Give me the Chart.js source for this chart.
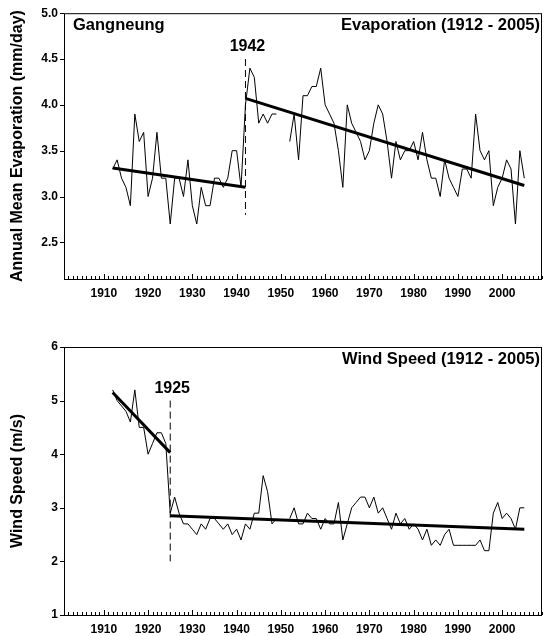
<!DOCTYPE html>
<html lang="en">

<head>
  <meta charset="UTF-8" />
  <title>Gangneung evaporation and wind speed</title>
  <script src="https://cdn.jsdelivr.net/npm/chart.js"></script>
  <style>
    body { margin: 0; padding: 0; background: #fff; }
    .panel { position: absolute; left: 0; }
  </style>
</head>

<body>
  <canvas id="evapChart" class="panel" style="top:0" width="547" height="318"></canvas>
  <canvas id="windChart" class="panel" style="top:318px" width="547" height="318"></canvas>

  <script>
    // years 1912 - 2005 (1950, 1951 missing)
    const years = [];
    for (let yr = 1912; yr <= 2005; yr++) years.push(yr);

    const evaporation = [
      3.3, 3.4, 3.2, 3.1, 2.9, 3.9, 3.6, 3.7, 3.0, 3.2, // 1912-1921
      3.7, 3.2, 3.2, 2.7, 3.2, 3.2, 3.0, 3.4, 2.9, 2.7, // 1922-1931
      3.1, 2.9, 2.9, 3.2, 3.2, 3.1, 3.2, 3.5, 3.5, 3.1, // 1932-1941
      4.0, 4.4, 4.3, 3.8, 3.9, 3.8, 3.9, 3.9, null, null, // 1942-1951
      3.6, 3.9, 3.4, 4.1, 4.1, 4.2, 4.2, 4.4, 4.0, 3.9, // 1952-1961
      3.8, 3.5, 3.1, 4.0, 3.8, 3.7, 3.6, 3.4, 3.5, 3.8, // 1962-1971
      4.0, 3.9, 3.6, 3.2, 3.6, 3.4, 3.5, 3.5, 3.6, 3.4, // 1972-1981
      3.7, 3.4, 3.2, 3.2, 3.0, 3.4, 3.2, 3.1, 3.0, 3.3, // 1982-1991
      3.3, 3.2, 3.9, 3.5, 3.4, 3.5, 2.9, 3.1, 3.2, 3.4, // 1992-2001
      3.3, 2.7, 3.5, 3.2                                // 2002-2005
    ];

    const windSpeed = [
      5.2, 5.0, 4.9, 4.8, 4.6, 5.2, 4.5, 4.5, 4.0, 4.2, // 1912-1921
      4.4, 4.4, 4.2, 2.9, 3.2, 2.9, 2.7, 2.7, 2.6, 2.5, // 1922-1931
      2.7, 2.6, 2.8, 2.8, 2.7, 2.6, 2.7, 2.5, 2.6, 2.4, // 1932-1941
      2.7, 2.6, 2.9, 2.9, 3.6, 3.3, 2.7, 2.8, null, null, // 1942-1951
      2.8, 3.0, 2.7, 2.7, 2.9, 2.8, 2.8, 2.6, 2.8, 2.7, // 1952-1961
      2.7, 3.1, 2.4, 2.7, 3.0, 3.1, 3.2, 3.2, 3.0, 3.2, // 1962-1971
      2.9, 3.0, 2.8, 2.6, 2.9, 2.7, 2.8, 2.6, 2.7, 2.6, // 1972-1981
      2.4, 2.6, 2.3, 2.4, 2.3, 2.5, 2.6, 2.3, 2.3, 2.3, // 1982-1991
      2.3, 2.3, 2.3, 2.4, 2.2, 2.2, 2.9, 3.1, 2.8, 2.9, // 1992-2001
      2.8, 2.6, 3.0, 3.0                                // 2002-2005
    ];

    // fitted trend segments [startYear, startValue, endYear, endValue]
    const evapTrend1 = [1912, 3.31, 1942, 3.10];
    const evapTrend2 = [1942, 4.07, 2005, 3.12];
    const windTrend1 = [1912, 5.15, 1925, 4.03];
    const windTrend2 = [1925, 2.85, 2005, 2.60];

    // change points and the extent of their dashed markers
    const evapBreak = { year: 1942, top: 4.5, bottom: 2.8 };
    const windBreak = { year: 1925, top: 5.0, bottom: 2.0 };

    const xRange = [1901, 2009];
    const xTickYears = [1910, 1920, 1930, 1940, 1950, 1960, 1970, 1980, 1990, 2000];
    const evapRange = [2.1, 5.0];
    const evapTicks = [2.5, 3.0, 3.5, 4.0, 4.5, 5.0];
    const windRange = [1, 6];
    const windTicks = [1, 2, 3, 4, 5, 6];

    const FONT = '"Liberation Sans", Arial, sans-serif';

    // box, inside year ticks, outside value ticks and panel labels
    const panelDeco = {
      id: 'panelDeco',
      afterDraw(chart, args, opts) {
        const { ctx, chartArea: a } = chart;
        const xs = chart.scales.x, ys = chart.scales.y;
        ctx.save();
        ctx.strokeStyle = '#000';
        ctx.lineWidth = 1;
        ctx.strokeRect(a.left + 0.5, a.top + 0.5, a.right - a.left - 1, a.bottom - a.top);

        ctx.beginPath();
        for (let yr = Math.ceil(xs.min); yr <= xs.max; yr++) {
          const px = Math.round(xs.getPixelForValue(yr)) + 0.5;
          const len = yr % 10 === 0 ? 5 : 3;
          ctx.moveTo(px, a.bottom);
          ctx.lineTo(px, a.bottom - len);
        }
        ys.ticks.forEach(t => {
          const py = Math.round(ys.getPixelForValue(t.value)) + 0.5;
          ctx.moveTo(a.left - 4, py);
          ctx.lineTo(a.left, py);
        });
        ctx.stroke();

        ctx.fillStyle = '#000';
        ctx.font = 'bold 16.5px ' + FONT;
        ctx.textBaseline = 'middle';
        if (opts.leftText) {
          ctx.textAlign = 'left';
          ctx.fillText(opts.leftText, a.left + 9, a.top + 12);
        }
        ctx.textAlign = 'right';
        ctx.fillText(opts.rightText, a.right - 2, a.top + 12);

        ctx.font = 'bold 16px ' + FONT;
        ctx.textAlign = 'center';
        const bx = xs.getPixelForValue(opts.breakYear);
        const by = ys.getPixelForValue(opts.breakTop);
        ctx.fillText(String(opts.breakYear), bx + 2, by - 12);
        ctx.restore();
      }
    };

    function toPoints(values) {
      return years.map((yr, i) => ({ x: yr, y: values[i] }));
    }

    function segment(t) {
      return [{ x: t[0], y: t[1] }, { x: t[2], y: t[3] }];
    }

    function makeChart(canvasId, cfg) {
      const ctx = document.getElementById(canvasId).getContext('2d');
      return new Chart(ctx, {
        type: 'line',
        data: {
          datasets: [
            { data: toPoints(cfg.values), borderColor: '#000', borderWidth: 1, spanGaps: false },
            { data: segment(cfg.trend1), borderColor: '#000', borderWidth: 3 },
            { data: segment(cfg.trend2), borderColor: '#000', borderWidth: 3 },
            {
              data: [{ x: cfg.brk.year, y: cfg.brk.top }, { x: cfg.brk.year, y: cfg.brk.bottom }],
              borderColor: '#000', borderWidth: 1, borderDash: [7, 4]
            }
          ]
        },
        options: {
          responsive: false,
          animation: false,
          devicePixelRatio: 1,
          elements: { point: { radius: 0 }, line: { tension: 0 } },
          layout: { padding: { top: cfg.padTop, right: 5, left: 0, bottom: 0 } },
          plugins: {
            legend: { display: false },
            tooltip: { enabled: false },
            panelDeco: {
              leftText: cfg.leftText,
              rightText: cfg.rightText,
              breakYear: cfg.brk.year,
              breakTop: cfg.brk.top
            }
          },
          scales: {
            x: {
              type: 'linear',
              min: xRange[0],
              max: xRange[1],
              afterBuildTicks: s => { s.ticks = xTickYears.map(v => ({ value: v })); },
              afterFit: s => { s.height = cfg.xAxisHeight; },
              grid: { display: false, drawTicks: false },
              border: { display: false },
              ticks: {
                autoSkip: false,
                maxRotation: 0,
                padding: 7,
                color: '#000',
                font: { family: FONT, size: 12, weight: 'bold' },
                callback: v => String(v)
              }
            },
            y: {
              min: cfg.range[0],
              max: cfg.range[1],
              afterBuildTicks: s => { s.ticks = cfg.ticks.map(v => ({ value: v })); },
              afterFit: s => { s.width = 64; },
              grid: { display: false, drawTicks: false },
              border: { display: false },
              title: {
                display: true,
                text: cfg.yTitle,
                color: '#000',
                padding: { top: 8, bottom: 0 },
                font: { family: FONT, size: 16, weight: 'bold' }
              },
              ticks: {
                padding: 6,
                color: '#000',
                font: { family: FONT, size: 12, weight: 'bold' },
                callback: cfg.tickFmt
              }
            }
          }
        },
        plugins: [panelDeco]
      });
    }

    makeChart('evapChart', {
      values: evaporation,
      trend1: evapTrend1,
      trend2: evapTrend2,
      brk: evapBreak,
      range: evapRange,
      ticks: evapTicks,
      tickFmt: v => v.toFixed(1),
      yTitle: 'Annual Mean Evaporation (mm/day)',
      leftText: 'Gangneung',
      rightText: 'Evaporation (1912 - 2005)',
      padTop: 11,
      xAxisHeight: 39
    });

    makeChart('windChart', {
      values: windSpeed,
      trend1: windTrend1,
      trend2: windTrend2,
      brk: windBreak,
      range: windRange,
      ticks: windTicks,
      tickFmt: v => String(v),
      yTitle: 'Wind Speed (m/s)',
      leftText: '',
      rightText: 'Wind Speed (1912 - 2005)',
      padTop: 29,
      xAxisHeight: 21
    });
  </script>
</body>

</html>
